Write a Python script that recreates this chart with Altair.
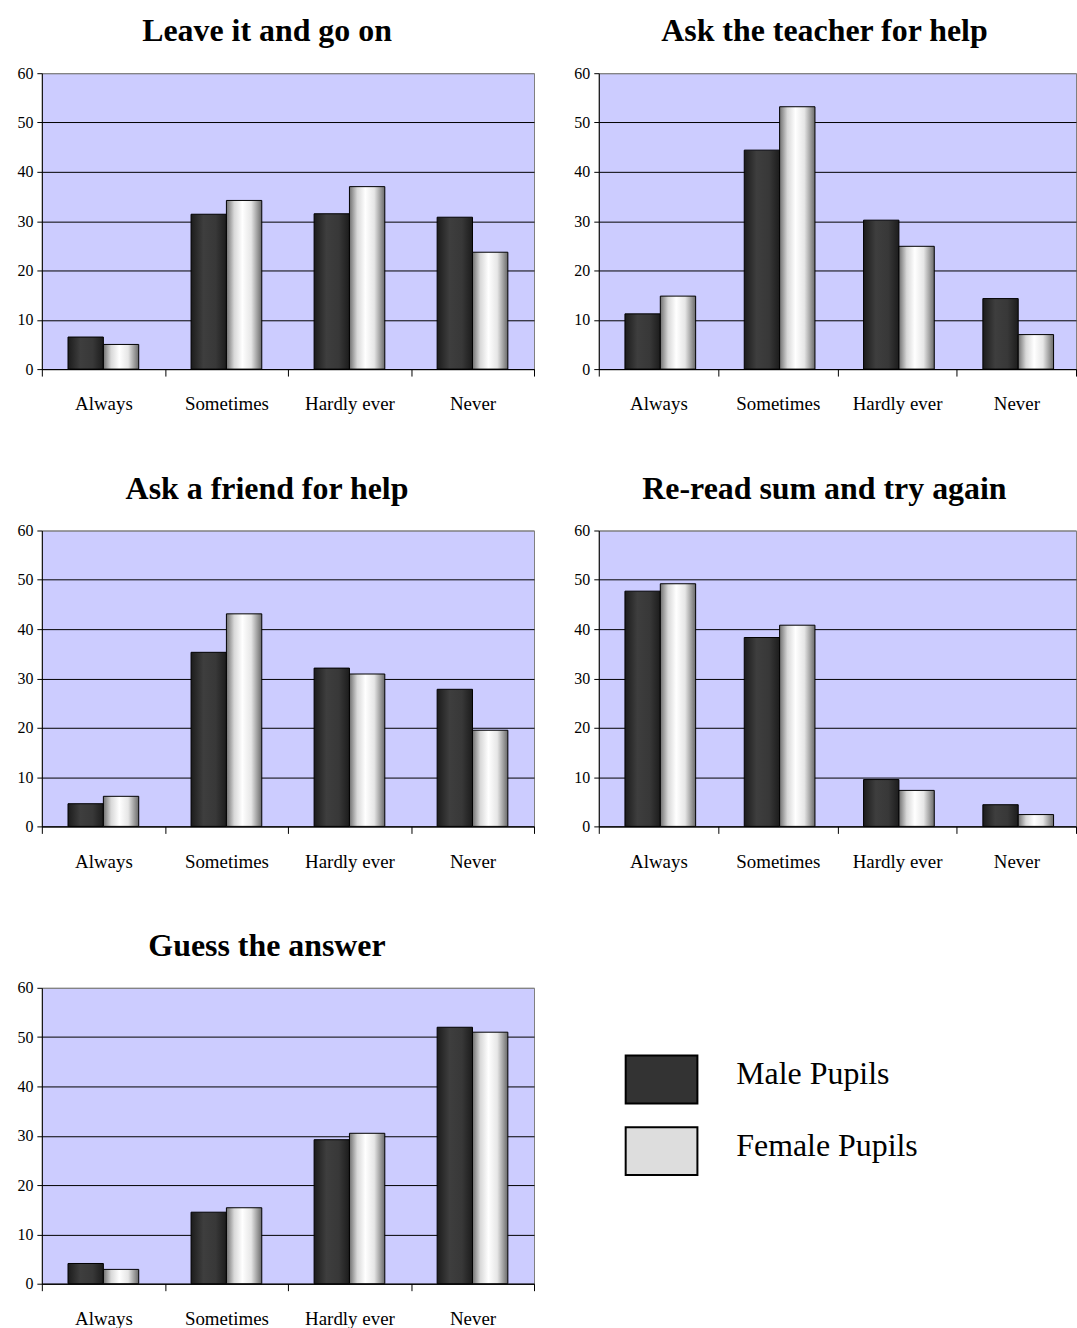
import altair as alt
import pandas as pd

categories = ["Always", "Sometimes", "Hardly ever", "Never"]
series = ["Male Pupils", "Female Pupils"]

titles = [
    "Leave it and go on",
    "Ask the teacher for help",
    "Ask a friend for help",
    "Re-read sum and try again",
    "Guess the answer",
]

male_leave = [6.5, 31.4, 31.5, 30.8]
female_leave = [5.0, 34.2, 37.0, 23.7]

male_teacher = [11.2, 44.4, 30.2, 14.3]
female_teacher = [14.8, 53.2, 24.9, 7.0]

male_friend = [4.6, 35.3, 32.1, 27.8]
female_friend = [6.1, 43.1, 30.9, 19.5]

male_reread = [47.7, 38.3, 9.5, 4.4]
female_reread = [49.2, 40.8, 7.3, 2.4]

male_guess = [4.1, 14.5, 29.2, 52.0]
female_guess = [2.9, 15.4, 30.5, 51.0]

panel_values = [
    (male_leave, female_leave),
    (male_teacher, female_teacher),
    (male_friend, female_friend),
    (male_reread, female_reread),
    (male_guess, female_guess),
]

FONT = "Liberation Serif"

male_fill = alt.Gradient(
    gradient="linear", x1=0, x2=1, y1=0, y2=0,
    stops=[
        alt.GradientStop(color="#1c1c1c", offset=0),
        alt.GradientStop(color="#3e3e3e", offset=0.35),
        alt.GradientStop(color="#383838", offset=0.7),
        alt.GradientStop(color="#1c1c1c", offset=1),
    ],
)
female_fill = alt.Gradient(
    gradient="linear", x1=0, x2=1, y1=0, y2=0,
    stops=[
        alt.GradientStop(color="#707070", offset=0),
        alt.GradientStop(color="#d8d8d8", offset=0.22),
        alt.GradientStop(color="#ffffff", offset=0.45),
        alt.GradientStop(color="#e6e6e6", offset=0.7),
        alt.GradientStop(color="#6a6a6a", offset=1),
    ],
)


def panel(title, male_vals, female_vals, width, dx):
    rows = []
    for c, m, f in zip(categories, male_vals, female_vals):
        rows.append({"category": c, "series": series[0], "value": m})
        rows.append({"category": c, "series": series[1], "value": f})
    df = pd.DataFrame(rows)

    base = alt.Chart(df).encode(
        x=alt.X(
            "category:N",
            sort=categories,
            scale=alt.Scale(domain=categories, paddingInner=0, paddingOuter=0),
            axis=alt.Axis(
                title=None, labelAngle=0, tickBand="extent", tickSize=7,
                labelPadding=19, labelFontSize=19, labelFont=FONT,
                labelColor="black", domainColor="black", tickColor="black",
                grid=False,
            ),
        ),
        xOffset=alt.XOffset(
            "series:N", sort=series,
            scale=alt.Scale(domain=series, paddingInner=0, paddingOuter=0.74),
        ),
        y=alt.Y(
            "value:Q",
            scale=alt.Scale(domain=[0, 60], nice=False),
            axis=alt.Axis(
                title=None, values=[0, 10, 20, 30, 40, 50, 60], tickSize=5,
                labelPadding=4, labelFontSize=16, labelFont=FONT,
                labelColor="black", domainColor="black", tickColor="black",
                grid=True,
                gridColor={"condition": {"test": "datum.value >= 60", "value": "#808080"}, "value": "black"},
                gridWidth=1, gridOpacity=1,
            ),
        ),
    )
    male_layer = base.transform_filter(alt.datum.series == series[0]).mark_bar(
        fill=male_fill, stroke="black", strokeWidth=1
    )
    female_layer = base.transform_filter(alt.datum.series == series[1]).mark_bar(
        fill=female_fill, stroke="black", strokeWidth=1
    )
    return alt.layer(male_layer, female_layer).properties(
        width=width,
        height=297,
        title=alt.TitleParams(
            text=title, font=FONT, fontSize=32, fontWeight="bold",
            color="black", anchor="middle", offset=17, dx=dx,
        ),
    )


panels = []
for i, (t, (m, f)) in enumerate(zip(titles, panel_values)):
    if i % 2 == 0:
        panels.append(panel(t, m, f, 494, -21))
    else:
        panels.append(panel(t, m, f, 479, -13))

legend_df = pd.DataFrame({"series": series})
ly = alt.Y(
    "series:N", sort=series, axis=None,
    scale=alt.Scale(domain=series, range=[68, 188], paddingInner=0.333, paddingOuter=0),
)
legend_rect = alt.Chart(legend_df).mark_rect(stroke="black", strokeWidth=2).encode(
    x=alt.value(27), x2=alt.value(99), y=ly,
    color=alt.Color("series:N", sort=series,
                    scale=alt.Scale(domain=series, range=["#333333", "#dddddd"]),
                    legend=None),
)
legend_text = alt.Chart(legend_df).mark_text(
    align="left", baseline="middle", font=FONT, fontSize=32, color="black", dy=-5
).encode(x=alt.value(138), y=ly, text="series:N")
legend = alt.layer(legend_rect, legend_text).properties(
    width=479, height=297,
    view=alt.ViewBackground(fill="white", strokeOpacity=0),
)

chart = alt.concat(
    *panels, legend, columns=2,
    spacing=alt.RowColnumber(row=57, column=38),
).properties(
    padding={"top": 12, "left": 16, "right": 0, "bottom": 0},
    background="white",
).configure_view(
    fill="#CCCCFF", stroke="#808080", strokeWidth=1
)

chart.save("out.html", embed_options={"renderer": "svg", "actions": False})
